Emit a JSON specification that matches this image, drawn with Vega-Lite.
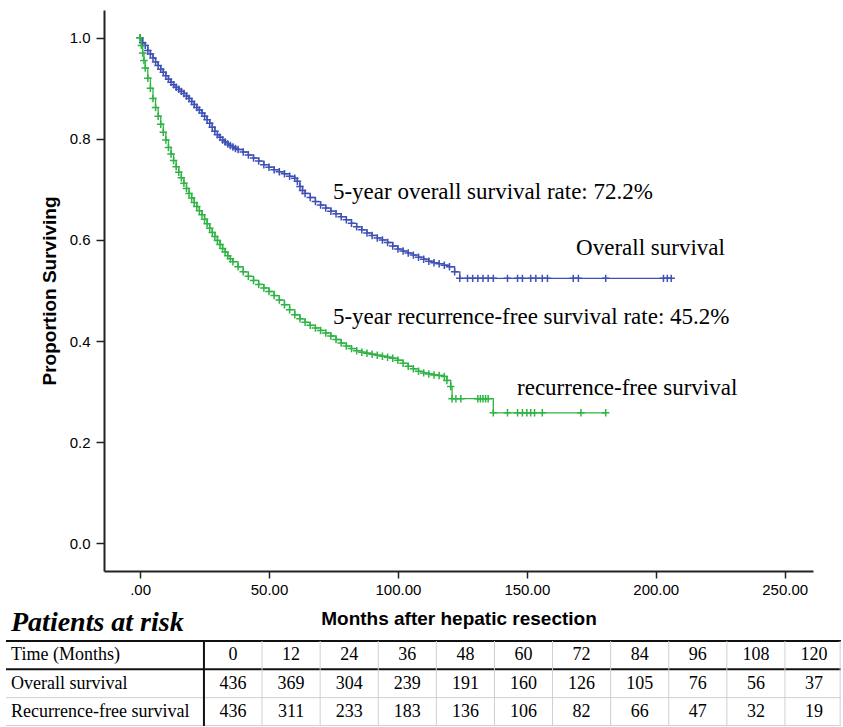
{
  "$schema": "https://vega.github.io/schema/vega-lite/v6.json",
  "padding": {"left": 5, "top": 10, "right": 0, "bottom": 0},
  "spacing": -19,
  "background": "white",
  "config": {"view": {"stroke": null}},
  "datasets": {
    "km": [
      {"g":"OS","t":0,"s":1.0},{"g":"OS","t":1,"s":0.99},{"g":"OS","t":2,"s":0.985},{"g":"OS","t":3,"s":0.975},{"g":"OS","t":4,"s":0.968},{"g":"OS","t":5,"s":0.96},{"g":"OS","t":6,"s":0.952},{"g":"OS","t":7,"s":0.945},{"g":"OS","t":8,"s":0.938},{"g":"OS","t":9,"s":0.932},{"g":"OS","t":10,"s":0.925},{"g":"OS","t":11,"s":0.918},{"g":"OS","t":12,"s":0.912},{"g":"OS","t":13,"s":0.907},{"g":"OS","t":14,"s":0.902},{"g":"OS","t":15,"s":0.898},{"g":"OS","t":16,"s":0.894},{"g":"OS","t":17,"s":0.89},{"g":"OS","t":18,"s":0.885},{"g":"OS","t":19,"s":0.88},{"g":"OS","t":20,"s":0.874},{"g":"OS","t":21,"s":0.868},{"g":"OS","t":22,"s":0.862},{"g":"OS","t":23,"s":0.857},{"g":"OS","t":24,"s":0.851},{"g":"OS","t":25,"s":0.845},{"g":"OS","t":26,"s":0.838},{"g":"OS","t":27,"s":0.831},{"g":"OS","t":28,"s":0.823},{"g":"OS","t":29,"s":0.815},{"g":"OS","t":30,"s":0.808},{"g":"OS","t":31,"s":0.803},{"g":"OS","t":32,"s":0.798},{"g":"OS","t":33,"s":0.794},{"g":"OS","t":34,"s":0.79},{"g":"OS","t":35,"s":0.787},{"g":"OS","t":36,"s":0.784},{"g":"OS","t":37,"s":0.781},{"g":"OS","t":38,"s":0.779},{"g":"OS","t":40,"s":0.774},{"g":"OS","t":42,"s":0.768},{"g":"OS","t":44,"s":0.762},{"g":"OS","t":46,"s":0.756},{"g":"OS","t":48,"s":0.749},{"g":"OS","t":50,"s":0.744},{"g":"OS","t":52,"s":0.739},{"g":"OS","t":54,"s":0.735},{"g":"OS","t":56,"s":0.731},{"g":"OS","t":58,"s":0.726},{"g":"OS","t":60,"s":0.722},{"g":"OS","t":61,"s":0.716},{"g":"OS","t":62,"s":0.706},{"g":"OS","t":63,"s":0.698},{"g":"OS","t":64,"s":0.692},{"g":"OS","t":66,"s":0.684},{"g":"OS","t":68,"s":0.676},{"g":"OS","t":70,"s":0.669},{"g":"OS","t":72,"s":0.663},{"g":"OS","t":74,"s":0.657},{"g":"OS","t":76,"s":0.652},{"g":"OS","t":78,"s":0.646},{"g":"OS","t":80,"s":0.64},{"g":"OS","t":82,"s":0.633},{"g":"OS","t":84,"s":0.626},{"g":"OS","t":86,"s":0.62},{"g":"OS","t":88,"s":0.614},{"g":"OS","t":90,"s":0.609},{"g":"OS","t":92,"s":0.604},{"g":"OS","t":94,"s":0.6},{"g":"OS","t":96,"s":0.595},{"g":"OS","t":98,"s":0.588},{"g":"OS","t":100,"s":0.582},{"g":"OS","t":102,"s":0.578},{"g":"OS","t":104,"s":0.574},{"g":"OS","t":106,"s":0.57},{"g":"OS","t":108,"s":0.566},{"g":"OS","t":110,"s":0.562},{"g":"OS","t":112,"s":0.558},{"g":"OS","t":114,"s":0.555},{"g":"OS","t":116,"s":0.553},{"g":"OS","t":118,"s":0.55},{"g":"OS","t":120,"s":0.547},{"g":"OS","t":122,"s":0.537},{"g":"OS","t":124,"s":0.524},{"g":"OS","t":127,"s":0.524},{"g":"OS","t":129,"s":0.524},{"g":"OS","t":131,"s":0.524},{"g":"OS","t":133,"s":0.524},{"g":"OS","t":135,"s":0.524},{"g":"OS","t":137,"s":0.524},{"g":"OS","t":142.5,"s":0.524},{"g":"OS","t":146.4,"s":0.524},{"g":"OS","t":148.3,"s":0.524},{"g":"OS","t":151.5,"s":0.524},{"g":"OS","t":153.5,"s":0.524},{"g":"OS","t":156,"s":0.524},{"g":"OS","t":158,"s":0.524},{"g":"OS","t":168,"s":0.524},{"g":"OS","t":170,"s":0.524},{"g":"OS","t":180.6,"s":0.524},{"g":"OS","t":203,"s":0.524},{"g":"OS","t":204.5,"s":0.524},{"g":"OS","t":206,"s":0.524},
      {"g":"RFS","t":0,"s":1.0},{"g":"RFS","t":0.5,"s":0.985},{"g":"RFS","t":1,"s":0.97},{"g":"RFS","t":1.5,"s":0.955},{"g":"RFS","t":2,"s":0.94},{"g":"RFS","t":3,"s":0.92},{"g":"RFS","t":4,"s":0.9},{"g":"RFS","t":5,"s":0.88},{"g":"RFS","t":6,"s":0.862},{"g":"RFS","t":7,"s":0.845},{"g":"RFS","t":8,"s":0.829},{"g":"RFS","t":9,"s":0.813},{"g":"RFS","t":10,"s":0.798},{"g":"RFS","t":11,"s":0.783},{"g":"RFS","t":12,"s":0.77},{"g":"RFS","t":13,"s":0.757},{"g":"RFS","t":14,"s":0.745},{"g":"RFS","t":15,"s":0.734},{"g":"RFS","t":16,"s":0.723},{"g":"RFS","t":17,"s":0.712},{"g":"RFS","t":18,"s":0.702},{"g":"RFS","t":19,"s":0.692},{"g":"RFS","t":20,"s":0.683},{"g":"RFS","t":21,"s":0.674},{"g":"RFS","t":22,"s":0.666},{"g":"RFS","t":23,"s":0.658},{"g":"RFS","t":24,"s":0.65},{"g":"RFS","t":25,"s":0.641},{"g":"RFS","t":26,"s":0.632},{"g":"RFS","t":27,"s":0.623},{"g":"RFS","t":28,"s":0.615},{"g":"RFS","t":29,"s":0.607},{"g":"RFS","t":30,"s":0.599},{"g":"RFS","t":31,"s":0.591},{"g":"RFS","t":32,"s":0.583},{"g":"RFS","t":33,"s":0.576},{"g":"RFS","t":34,"s":0.569},{"g":"RFS","t":35,"s":0.563},{"g":"RFS","t":36,"s":0.557},{"g":"RFS","t":38,"s":0.547},{"g":"RFS","t":40,"s":0.537},{"g":"RFS","t":42,"s":0.528},{"g":"RFS","t":44,"s":0.52},{"g":"RFS","t":46,"s":0.512},{"g":"RFS","t":48,"s":0.505},{"g":"RFS","t":50,"s":0.498},{"g":"RFS","t":52,"s":0.49},{"g":"RFS","t":54,"s":0.481},{"g":"RFS","t":56,"s":0.472},{"g":"RFS","t":58,"s":0.462},{"g":"RFS","t":60,"s":0.452},{"g":"RFS","t":62,"s":0.444},{"g":"RFS","t":64,"s":0.437},{"g":"RFS","t":66,"s":0.431},{"g":"RFS","t":68,"s":0.426},{"g":"RFS","t":70,"s":0.421},{"g":"RFS","t":72,"s":0.416},{"g":"RFS","t":74,"s":0.41},{"g":"RFS","t":76,"s":0.403},{"g":"RFS","t":78,"s":0.396},{"g":"RFS","t":80,"s":0.39},{"g":"RFS","t":82,"s":0.385},{"g":"RFS","t":84,"s":0.381},{"g":"RFS","t":86,"s":0.378},{"g":"RFS","t":88,"s":0.376},{"g":"RFS","t":90,"s":0.374},{"g":"RFS","t":92,"s":0.372},{"g":"RFS","t":94,"s":0.37},{"g":"RFS","t":96,"s":0.368},{"g":"RFS","t":98,"s":0.366},{"g":"RFS","t":100,"s":0.362},{"g":"RFS","t":102,"s":0.356},{"g":"RFS","t":104,"s":0.35},{"g":"RFS","t":106,"s":0.345},{"g":"RFS","t":108,"s":0.34},{"g":"RFS","t":110,"s":0.337},{"g":"RFS","t":112,"s":0.335},{"g":"RFS","t":114,"s":0.333},{"g":"RFS","t":116,"s":0.332},{"g":"RFS","t":118,"s":0.33},{"g":"RFS","t":119,"s":0.322},{"g":"RFS","t":120.5,"s":0.31},{"g":"RFS","t":121,"s":0.286},{"g":"RFS","t":122.5,"s":0.286},{"g":"RFS","t":124.4,"s":0.286},{"g":"RFS","t":131,"s":0.286},{"g":"RFS","t":132,"s":0.286},{"g":"RFS","t":133,"s":0.286},{"g":"RFS","t":134,"s":0.286},{"g":"RFS","t":135,"s":0.286},{"g":"RFS","t":137,"s":0.258},{"g":"RFS","t":142.5,"s":0.258},{"g":"RFS","t":146.4,"s":0.258},{"g":"RFS","t":148.3,"s":0.258},{"g":"RFS","t":150,"s":0.258},{"g":"RFS","t":151.5,"s":0.258},{"g":"RFS","t":153,"s":0.258},{"g":"RFS","t":156,"s":0.258},{"g":"RFS","t":171,"s":0.258},{"g":"RFS","t":180.6,"s":0.258}
    ],
    "notes": [
      {"t":74.8,"s":0.695,"label":"5-year overall survival rate: 72.2%"},
      {"t":169.1,"s":0.584,"label":"Overall survival"},
      {"t":74.8,"s":0.447,"label":"5-year recurrence-free survival rate: 45.2%"},
      {"t":146.2,"s":0.307,"label":"recurrence-free survival"}
    ],
    "cells": [
      {"r":0.5,"c":0,"v":"0"},{"r":0.5,"c":1,"v":"12"},{"r":0.5,"c":2,"v":"24"},{"r":0.5,"c":3,"v":"36"},{"r":0.5,"c":4,"v":"48"},{"r":0.5,"c":5,"v":"60"},{"r":0.5,"c":6,"v":"72"},{"r":0.5,"c":7,"v":"84"},{"r":0.5,"c":8,"v":"96"},{"r":0.5,"c":9,"v":"108"},{"r":0.5,"c":10,"v":"120"},
      {"r":1.5,"c":0,"v":"436"},{"r":1.5,"c":1,"v":"369"},{"r":1.5,"c":2,"v":"304"},{"r":1.5,"c":3,"v":"239"},{"r":1.5,"c":4,"v":"191"},{"r":1.5,"c":5,"v":"160"},{"r":1.5,"c":6,"v":"126"},{"r":1.5,"c":7,"v":"105"},{"r":1.5,"c":8,"v":"76"},{"r":1.5,"c":9,"v":"56"},{"r":1.5,"c":10,"v":"37"},
      {"r":2.5,"c":0,"v":"436"},{"r":2.5,"c":1,"v":"311"},{"r":2.5,"c":2,"v":"233"},{"r":2.5,"c":3,"v":"183"},{"r":2.5,"c":4,"v":"136"},{"r":2.5,"c":5,"v":"106"},{"r":2.5,"c":6,"v":"82"},{"r":2.5,"c":7,"v":"66"},{"r":2.5,"c":8,"v":"47"},{"r":2.5,"c":9,"v":"32"},{"r":2.5,"c":10,"v":"19"}
    ],
    "rowlabels": [
      {"r":0.5,"c":-3.82,"v":"Time (Months)"},
      {"r":1.5,"c":-3.82,"v":"Overall survival"},
      {"r":2.5,"c":-3.82,"v":"Recurrence-free survival"}
    ],
    "hthick": [{"r":0},{"r":1}],
    "hthin": [{"r":2},{"r":2.985}],
    "vthick": [{"c":-0.5}],
    "vthin": [{"c":0.5},{"c":1.5},{"c":2.5},{"c":3.5},{"c":4.5},{"c":5.5},{"c":6.5},{"c":7.5},{"c":8.5},{"c":9.5},{"c":10.45}]
  },
  "vconcat": [
    {
      "width": 709,
      "height": 561,
      "layer": [
        {
          "data": {"name": "km"},
          "mark": {"type": "line", "interpolate": "step-after", "strokeWidth": 1.3},
          "encoding": {
            "x": {"field": "t", "type": "quantitative",
              "scale": {"domain": [-14, 261], "nice": false, "zero": false},
              "axis": {"values": [0, 50, 100, 150, 200, 250],
                "labelExpr": "datum.value === 0 ? '.00' : format(datum.value, '.2f')",
                "title": "Months after hepatic resection",
                "titleFont": "Liberation Sans", "titleFontSize": 19, "titleFontWeight": "bold", "titleColor": "#000", "titlePadding": 12,
                "labelFont": "Liberation Sans", "labelFontSize": 15, "labelColor": "#000", "labelPadding": 4,
                "tickSize": 7, "tickColor": "#222", "tickWidth": 1.5, "domainColor": "#222", "domainWidth": 2, "grid": false}},
            "y": {"field": "s", "type": "quantitative",
              "scale": {"domain": [-0.055, 1.055], "nice": false, "zero": false},
              "axis": {"values": [0, 0.2, 0.4, 0.6, 0.8, 1.0], "format": ".1f",
                "title": "Proportion Surviving",
                "titleFont": "Liberation Sans", "titleFontSize": 19, "titleFontWeight": "bold", "titleColor": "#000", "titlePadding": 10,
                "labelFont": "Liberation Sans", "labelFontSize": 15, "labelColor": "#000", "labelPadding": 6,
                "tickSize": 8, "tickColor": "#222", "tickWidth": 1.5, "domainColor": "#222", "domainWidth": 2, "grid": false}},
            "color": {"field": "g", "type": "nominal", "scale": {"domain": ["OS", "RFS"], "range": ["#3f51b5", "#2fb344"]}, "legend": null}
          }
        },
        {
          "data": {"name": "km"},
          "mark": {"type": "point", "shape": "M-1,0L1,0M0,-1L0,1", "filled": false, "size": 56, "strokeWidth": 1.5, "opacity": 1},
          "encoding": {
            "x": {"field": "t", "type": "quantitative", "scale": {"domain": [-14, 261], "nice": false, "zero": false}},
            "y": {"field": "s", "type": "quantitative", "scale": {"domain": [-0.055, 1.055], "nice": false, "zero": false}},
            "color": {"field": "g", "type": "nominal", "scale": {"domain": ["OS", "RFS"], "range": ["#3f51b5", "#2fb344"]}, "legend": null}
          }
        },
        {
          "data": {"name": "notes"},
          "mark": {"type": "text", "align": "left", "baseline": "middle", "font": "Liberation Serif", "fontSize": 23, "color": "#000"},
          "encoding": {
            "x": {"field": "t", "type": "quantitative", "scale": {"domain": [-14, 261], "nice": false, "zero": false}},
            "y": {"field": "s", "type": "quantitative", "scale": {"domain": [-0.055, 1.055], "nice": false, "zero": false}},
            "text": {"field": "label"}
          }
        }
      ]
    },
    {
      "width": 737,
      "height": 85,
      "title": {"text": "Patients at risk", "anchor": "start", "frame": "bounds", "font": "Liberation Serif", "fontSize": 28, "fontWeight": "bold", "fontStyle": "italic", "color": "#000", "baseline": "alphabetic", "offset": -19, "dx": 6},
      "layer": [
        {
          "data": {"name": "hthick"},
          "mark": {"type": "rule", "color": "#111", "strokeWidth": 2},
          "encoding": {
            "y": {"field": "r", "type": "quantitative", "scale": {"domain": [0, 3], "reverse": true, "nice": false, "zero": false}, "axis": null},
            "x": {"datum": -3.907, "type": "quantitative", "scale": {"domain": [-2.2203, 10.4647], "nice": false, "zero": false}, "axis": null},
            "x2": {"datum": 10.4647}
          }
        },
        {
          "data": {"name": "hthin"},
          "mark": {"type": "rule", "color": "#cfcfcf", "strokeWidth": 1},
          "encoding": {
            "y": {"field": "r", "type": "quantitative"},
            "x": {"datum": -3.907, "type": "quantitative"},
            "x2": {"datum": 10.4647}
          }
        },
        {
          "data": {"name": "vthin"},
          "mark": {"type": "rule", "color": "#cfcfcf", "strokeWidth": 1},
          "encoding": {
            "x": {"field": "c", "type": "quantitative"},
            "y": {"datum": 0, "type": "quantitative"},
            "y2": {"datum": 3}
          }
        },
        {
          "data": {"name": "vthick"},
          "mark": {"type": "rule", "color": "#111", "strokeWidth": 2},
          "encoding": {
            "x": {"field": "c", "type": "quantitative"},
            "y": {"datum": 0, "type": "quantitative"},
            "y2": {"datum": 3}
          }
        },
        {
          "data": {"name": "cells"},
          "mark": {"type": "text", "align": "center", "baseline": "middle", "font": "Liberation Serif", "fontSize": 18, "color": "#000"},
          "encoding": {
            "x": {"field": "c", "type": "quantitative"},
            "y": {"field": "r", "type": "quantitative"},
            "text": {"field": "v"}
          }
        },
        {
          "data": {"name": "rowlabels"},
          "mark": {"type": "text", "align": "left", "baseline": "middle", "font": "Liberation Serif", "fontSize": 18, "color": "#000"},
          "encoding": {
            "x": {"field": "c", "type": "quantitative"},
            "y": {"field": "r", "type": "quantitative"},
            "text": {"field": "v"}
          }
        }
      ]
    }
  ]
}
